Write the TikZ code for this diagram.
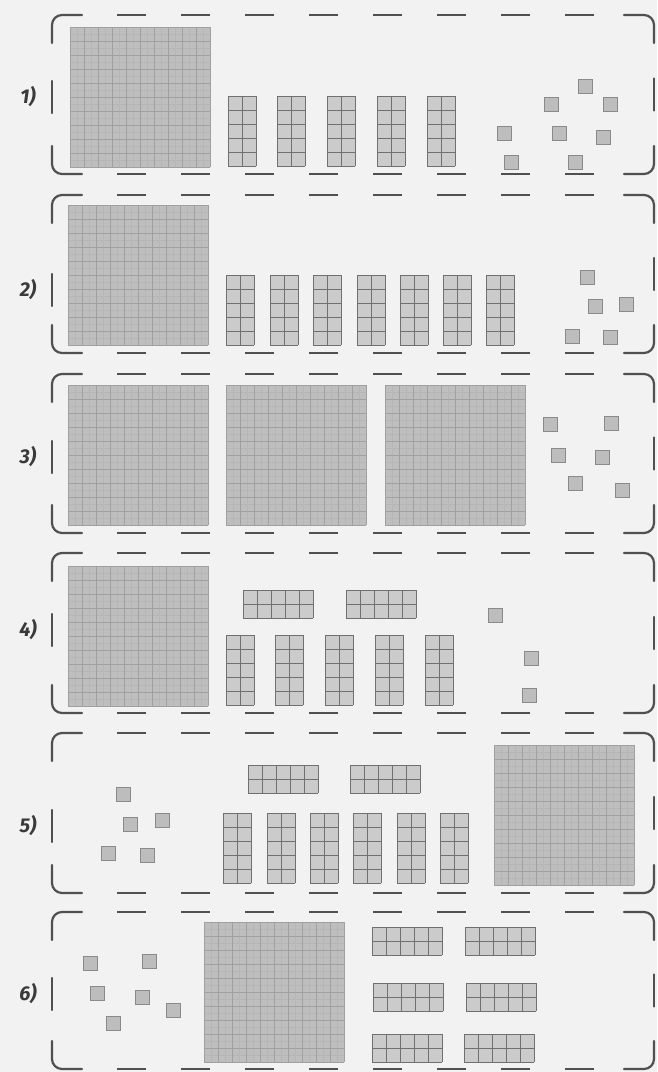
\documentclass[tikz,border=0pt]{standalone}
\usepackage{fontspec}
\setmainfont{Fira Sans}
\definecolor{bg}{HTML}{F2F2F2}
\definecolor{bord}{HTML}{505050}
\definecolor{hfillc}{HTML}{BEBEBE}
\definecolor{hgridc}{HTML}{A0A0A0}
\definecolor{hfinec}{HTML}{B6B6B6}
\definecolor{rfillc}{HTML}{CBCBCB}
\definecolor{rgridc}{HTML}{707070}
\definecolor{ufillc}{HTML}{BDBDBD}
\definecolor{udrawc}{HTML}{8A8A8A}
\definecolor{lblc}{HTML}{3A3A3A}
\tikzset{
  bd/.style={draw=bord,line width=2.2pt,line cap=round},
  bddash/.style={bd,line cap=butt,dash pattern=on 29pt off 35pt},
  lbl/.style={font=\fontsize{20}{20}\selectfont\bfseries\itshape,text=lblc,inner sep=0pt},
  hfill/.style={fill=hfillc},
  hfine/.style={draw=hfinec,line width=0.3pt,step=7pt},
  hgrid/.style={draw=hgridc,line width=0.7pt,step=14pt},
  rfill/.style={fill=rfillc},
  rgrid/.style={draw=rgridc,line width=0.9pt,step=14pt},
  unitbox/.style={fill=ufillc,draw=udrawc,line width=0.9pt}
}
% hundred flat, top-left corner
\newcommand\Hsq[2]{\begin{scope}[shift={(#1,#2)}]
  \fill[hfill] (0,0) rectangle (140,140);
  \draw[hfine] (0,0) grid (140,140);
  \draw[hgrid] (0,0) grid (140,140);
\end{scope}}
% vertical rod, top-left corner
\newcommand\Vr[2]{\begin{scope}[shift={(#1,#2)}]
  \fill[rfill] (0,0) rectangle (28,70);
  \draw[rgrid] (0,0) grid (28,70);
\end{scope}}
% horizontal rod, top-left corner
\newcommand\Hr[2]{\begin{scope}[shift={(#1,#2)}]
  \fill[rfill] (0,0) rectangle (70,28);
  \draw[rgrid] (0,0) grid (70,28);
\end{scope}}
% unit cube, centre
\newcommand\Un[2]{\draw[unitbox] (#1-7,#2-7) rectangle (#1+7,#2+7);}
% panel frame: top, bottom, label y, label, name
\newcommand\Pnl[5]{%
  \draw[bd,rounded corners=10pt] (52,#1+28) -- (52,#1) -- (82,#1);
  \draw[bd,rounded corners=10pt] (624,#1) -- (654,#1) -- (654,#1+28);
  \draw[bd,rounded corners=10pt] (52,#2-28) -- (52,#2) -- (82,#2);
  \draw[bd,rounded corners=10pt] (624,#2) -- (654,#2) -- (654,#2-28);
  \draw[bddash] (117,#1) -- (595,#1);
  \draw[bddash] (117,#2) -- (595,#2);
  \draw[bd] (52,#3-16) -- (52,#3+16);
  \draw[bd] (654,{(#1+#2)/2-16}) -- (654,{(#1+#2)/2+16});
  \node[lbl] (#5) at (28,#3) {#4};
}
\begin{document}
\begin{tikzpicture}[x=1pt,y=-1pt]
\fill[bg] (0,0) rectangle (657,1072);
\useasboundingbox (0,0) rectangle (657,1072);

% ---- panel 1
\Pnl{15}{174}{97}{1)}{l1}
\Hsq{70}{27}
\foreach \x in {228,277,327,377,427} {\Vr{\x}{96}}
\foreach \p/\q in {551/104,585/86,610/104,504/133,559/133,603/137,511/162,575/162} {\Un{\p}{\q}}

% ---- panel 2
\Pnl{195}{353}{290}{2)}{l2}
\Hsq{68}{205}
\foreach \x in {226,270,313,357,400,443,486} {\Vr{\x}{275}}
\foreach \p/\q in {587/277,595/306,626/304,572/336,610/337} {\Un{\p}{\q}}

% ---- panel 3
\Pnl{374}{533}{457}{3)}{l3}
\Hsq{68}{385}
\Hsq{226}{385}
\Hsq{385}{385}
\foreach \p/\q in {550/424,611/423,558/455,602/457,575/483,622/490} {\Un{\p}{\q}}

% ---- panel 4
\Pnl{553}{713}{630}{4)}{l4}
\Hsq{68}{566}
\Hr{243}{590}
\Hr{346}{590}
\foreach \x in {226,275,325,375,425} {\Vr{\x}{635}}
\foreach \p/\q in {495/615,531/658,529/695} {\Un{\p}{\q}}

% ---- panel 5
\Pnl{733}{893}{826}{5)}{l5}
\foreach \p/\q in {123/794,130/824,162/820,108/853,147/855} {\Un{\p}{\q}}
\Hr{248}{765}
\Hr{350}{765}
\foreach \x in {223,267,310,353,397,440} {\Vr{\x}{813}}
\Hsq{494}{745}

% ---- panel 6
\Pnl{912}{1069}{994}{6)}{l6}
\foreach \p/\q in {90/963,149/961,97/993,142/997,173/1010,113/1023} {\Un{\p}{\q}}
\Hsq{204}{922}
\foreach \x/\y in {372/927,465/927,373/983,466/983,372/1034,464/1034} {\Hr{\x}{\y}}
\end{tikzpicture}
\end{document}
